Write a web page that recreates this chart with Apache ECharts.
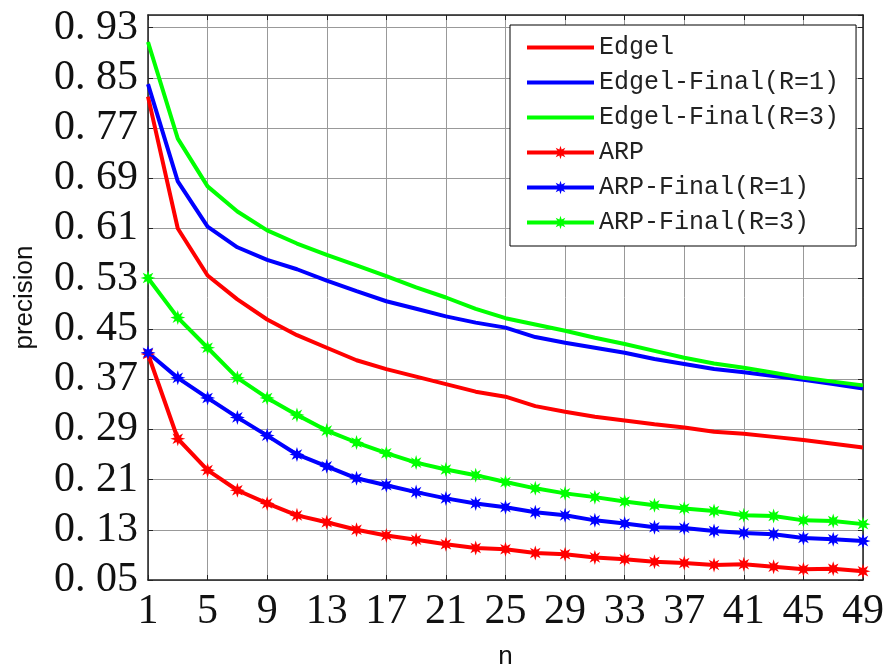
<!DOCTYPE html>
<html lang="en">

<head>
    <meta charset="UTF-8">
    <title>precision</title>
    <style>
        html, body { margin: 0; padding: 0; background: #fff; }
        #main { width: 889px; height: 667px; }
    </style>
</head>

<body>
    <div id="main"></div>
    <script src="https://cdn.jsdelivr.net/npm/echarts@6/dist/echarts.min.js"></script>
    <script>
        // n values (odd n, 1..49)
        var nValues = [1, 3, 5, 7, 9, 11, 13, 15, 17, 19, 21, 23, 25, 27, 29, 31, 33, 35, 37, 39, 41, 43, 45, 47, 49];

        var edgel = [0.82, 0.61, 0.535, 0.497, 0.465, 0.44, 0.42, 0.40, 0.386, 0.374, 0.362, 0.35, 0.342,
            0.327, 0.318, 0.31, 0.304, 0.298, 0.293, 0.286, 0.283, 0.278, 0.273, 0.267, 0.261];
        var edgelFinalR1 = [0.84, 0.685, 0.613, 0.58, 0.56, 0.545, 0.527, 0.51, 0.494, 0.482, 0.47, 0.46, 0.452,
            0.437, 0.428, 0.42, 0.412, 0.402, 0.394, 0.386, 0.381, 0.375, 0.369, 0.362, 0.355];
        var edgelFinalR3 = [0.907, 0.753, 0.677, 0.637, 0.607, 0.586, 0.568, 0.551, 0.534, 0.516, 0.5, 0.482, 0.467,
            0.457, 0.447, 0.436, 0.426, 0.415, 0.404, 0.395, 0.388, 0.38, 0.372, 0.366, 0.36];
        var arp = [0.41, 0.275, 0.225, 0.193, 0.172, 0.153, 0.142, 0.13, 0.121, 0.114, 0.107, 0.101, 0.099,
            0.093, 0.091, 0.086, 0.083, 0.079, 0.077, 0.074, 0.075, 0.071, 0.067, 0.068, 0.064];
        var arpFinalR1 = [0.412, 0.372, 0.34, 0.309, 0.28, 0.25, 0.231, 0.212, 0.201, 0.19, 0.18, 0.172, 0.166,
            0.158, 0.153, 0.145, 0.14, 0.134, 0.133, 0.128, 0.125, 0.123, 0.117, 0.115, 0.112];
        var arpFinalR3 = [0.531, 0.468, 0.42, 0.372, 0.34, 0.313, 0.288, 0.269, 0.252, 0.237, 0.226, 0.217, 0.206,
            0.196, 0.188, 0.182, 0.175, 0.169, 0.164, 0.16, 0.153, 0.152, 0.145, 0.144, 0.139];

        var seriesNames = ["Edgel", "Edgel-Final(R=1)", "Edgel-Final(R=3)", "ARP", "ARP-Final(R=1)", "ARP-Final(R=3)"];

        // asterisk-like marker (MATLAB '*' drawn with a thick line)
        function starPath() {
            var pts = [];
            for (var k = 0; k < 16; k++) {
                var a = k * Math.PI / 8;
                var r = k % 2 === 0 ? 10 : 4.6;
                pts.push((r * Math.sin(a)).toFixed(2) + "," + (-r * Math.cos(a)).toFixed(2));
            }
            return "path://M" + pts.join(" L") + " Z";
        }
        var star = starPath();
        // plain line icon for legend entries without markers
        var lineIcon = "path://M0,0 L67,0 L67,4 L0,4 Z";

        function pairs(values) {
            return nValues.map(function (n, i) { return [n, values[i]]; });
        }

        function makeSeries(name, values, color, marked) {
            return {
                name: name,
                type: "line",
                data: pairs(values),
                symbol: marked ? star : "none",
                symbolSize: 15,
                showSymbol: marked,
                itemStyle: { color: color },
                lineStyle: { color: color, width: 4 },
                z: marked ? 3 : 2
            };
        }

        var tickFont = "'Liberation Serif', 'DejaVu Serif', serif";

        var myChart = echarts.init(document.getElementById("main"));
        var option = {
            animation: false,
            backgroundColor: "#fff",
            grid: { left: 148, right: 26, top: 15, bottom: 87, outerBoundsMode: "none", containLabel: false },
            legend: {
                orient: "vertical",
                left: 510,
                top: 25,
                padding: [10, 17, 11, 15],
                itemWidth: 67,
                itemHeight: 17,
                itemGap: 10,
                backgroundColor: "#fff",
                borderColor: "#000",
                borderWidth: 1,
                borderRadius: 0,
                lineStyle: { width: 4 },
                textStyle: {
                    fontFamily: "'Liberation Mono', 'DejaVu Sans Mono', monospace",
                    fontSize: 25,
                    lineHeight: 25,
                    color: "#222"
                },
                data: [
                    { name: seriesNames[0], icon: lineIcon },
                    { name: seriesNames[1], icon: lineIcon },
                    { name: seriesNames[2], icon: lineIcon },
                    seriesNames[3],
                    seriesNames[4],
                    seriesNames[5]
                ]
            },
            xAxis: [{
                type: "value",
                min: 1,
                max: 49,
                interval: 4,
                name: "n",
                nameLocation: "middle",
                nameGap: 64,
                nameTextStyle: { fontFamily: "'Liberation Sans', Arial, sans-serif", fontSize: 26, color: "#111" },
                axisLine: { lineStyle: { color: "#222", width: 1.5 } },
                axisTick: { inside: true, length: 5, lineStyle: { color: "#222" } },
                axisLabel: { fontFamily: tickFont, fontSize: 42, color: "#111", margin: 11 },
                splitLine: { show: true, lineStyle: { color: "#999", width: 1 } }
            }, {
                type: "value",
                position: "top",
                min: 1,
                max: 49,
                interval: 4,
                axisLine: { show: true, lineStyle: { color: "#222", width: 1.5 } },
                axisTick: { show: true, inside: true, length: 5, lineStyle: { color: "#222" } },
                axisLabel: { show: false },
                splitLine: { show: false }
            }],
            yAxis: [{
                type: "value",
                min: 0.05,
                max: 0.95,
                interval: 0.08,
                name: "precision",
                nameLocation: "middle",
                nameGap: 110,
                nameTextStyle: { fontFamily: "'Liberation Sans', Arial, sans-serif", fontSize: 26, color: "#111" },
                axisLine: { lineStyle: { color: "#222", width: 1.5 } },
                axisTick: { inside: true, length: 5, lineStyle: { color: "#222" } },
                axisLabel: {
                    fontFamily: tickFont,
                    fontSize: 42,
                    color: "#111",
                    margin: 10,
                    showMaxLabel: false,
                    formatter: function (v) { return v.toFixed(2).replace(".", ". "); }
                },
                splitLine: { show: true, lineStyle: { color: "#999", width: 1 } }
            }, {
                type: "value",
                position: "right",
                min: 0.05,
                max: 0.95,
                interval: 0.08,
                axisLine: { show: true, lineStyle: { color: "#222", width: 1.5 } },
                axisTick: { show: true, inside: true, length: 5, lineStyle: { color: "#222" } },
                axisLabel: { show: false },
                splitLine: { show: false }
            }],
            series: [
                makeSeries(seriesNames[0], edgel, "#ff0000", false),
                makeSeries(seriesNames[1], edgelFinalR1, "#0000ff", false),
                makeSeries(seriesNames[2], edgelFinalR3, "#00ff00", false),
                makeSeries(seriesNames[3], arp, "#ff0000", true),
                makeSeries(seriesNames[4], arpFinalR1, "#0000ff", true),
                makeSeries(seriesNames[5], arpFinalR3, "#00ff00", true)
            ]
        };
        myChart.setOption(option, true);
    </script>
</body>

</html>
